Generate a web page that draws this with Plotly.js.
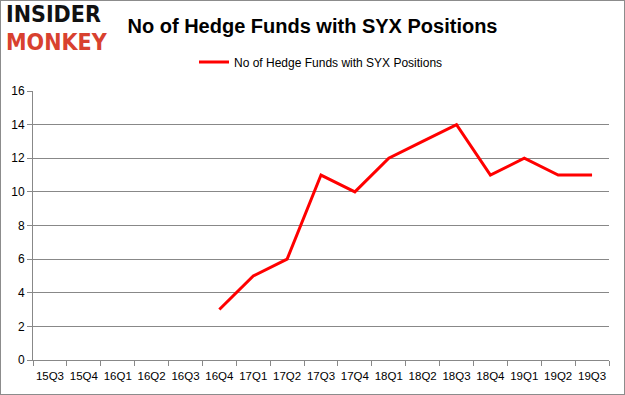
<!DOCTYPE html>
<html>
<head>
<meta charset="utf-8">
<script src="https://cdn.plot.ly/plotly-3.0.1.min.js"></script>
<style>
html,body{margin:0;padding:0;background:#fff;}
#chart{width:625px;height:395px;box-sizing:border-box;border:1px solid #8c8c8c;}
</style>
</head>
<body>
<div id="chart"></div>
<script>
const quarters = ["15Q3","15Q4","16Q1","16Q2","16Q3","16Q4","17Q1","17Q2","17Q3","17Q4","18Q1","18Q2","18Q3","18Q4","19Q1","19Q2","19Q3"];
const hedgeFunds = [null,null,null,null,null,3,5,6,11,10,12,13,14,11,12,11,11];
const seriesName = "No of Hedge Funds with SYX Positions";
const yTicks = [0,2,4,6,8,10,12,14,16];

const trace = {
  x: quarters, y: hedgeFunds, name: seriesName, type: "scatter", mode: "lines",
  line: {color: "#ff0000", width: 3}, connectgaps: false, showlegend: true
};
const layout = {
  width: 623, height: 393,
  margin: {l: 32, r: 15, t: 90, b: 34},
  paper_bgcolor: "#fff", plot_bgcolor: "#fff",
  font: {family: "Liberation Sans, Arial, sans-serif", size: 11, color: "#000"},
  title: {text: "<b>No of Hedge Funds with SYX Positions</b>", x: 0.5, xanchor: "center", y: 0.936, yanchor: "middle",
          font: {size: 20, color: "#000", family: "Liberation Sans, Arial, sans-serif"}},
  showlegend: true,
  legend: {orientation: "h", x: 0.5, xanchor: "center", y: 1.108, yanchor: "middle", font: {size: 12}, itemwidth: 30},
  xaxis: {type: "category", range: [-0.5, quarters.length - 0.5], tickson: "boundaries", ticks: "outside", ticklen: 5, tickcolor: "#888",
          tickangle: 0, ticklabelstandoff: 5, showline: true, linecolor: "#888", linewidth: 1, showgrid: false, tickfont: {size: 11.5}},
  yaxis: {range: [0, 16], tickvals: yTicks, ticks: "outside", ticklen: 5, tickcolor: "#888",
          showline: true, linecolor: "#888", showgrid: true, gridcolor: "#888", gridwidth: 1,
          zeroline: false, tickfont: {size: 12}},
  annotations: [
    {text: "<b>INSIDER</b>", xref: "paper", yref: "paper", x: -0.05, y: 1.285, xanchor: "left", yanchor: "middle",
     showarrow: false, font: {size: 23, color: "#111", family: "DejaVu Sans Condensed, DejaVu Sans, Arial"}},
    {text: "<b>MONKEY</b>", xref: "paper", yref: "paper", x: -0.05, y: 1.183, xanchor: "left", yanchor: "middle",
     showarrow: false, font: {size: 23, color: "#d8412f", family: "DejaVu Sans Condensed, DejaVu Sans, Arial"}}
  ]
};
Plotly.newPlot("chart", [trace], layout, {displayModeBar: false, staticPlot: true});
</script>
</body>
</html>
